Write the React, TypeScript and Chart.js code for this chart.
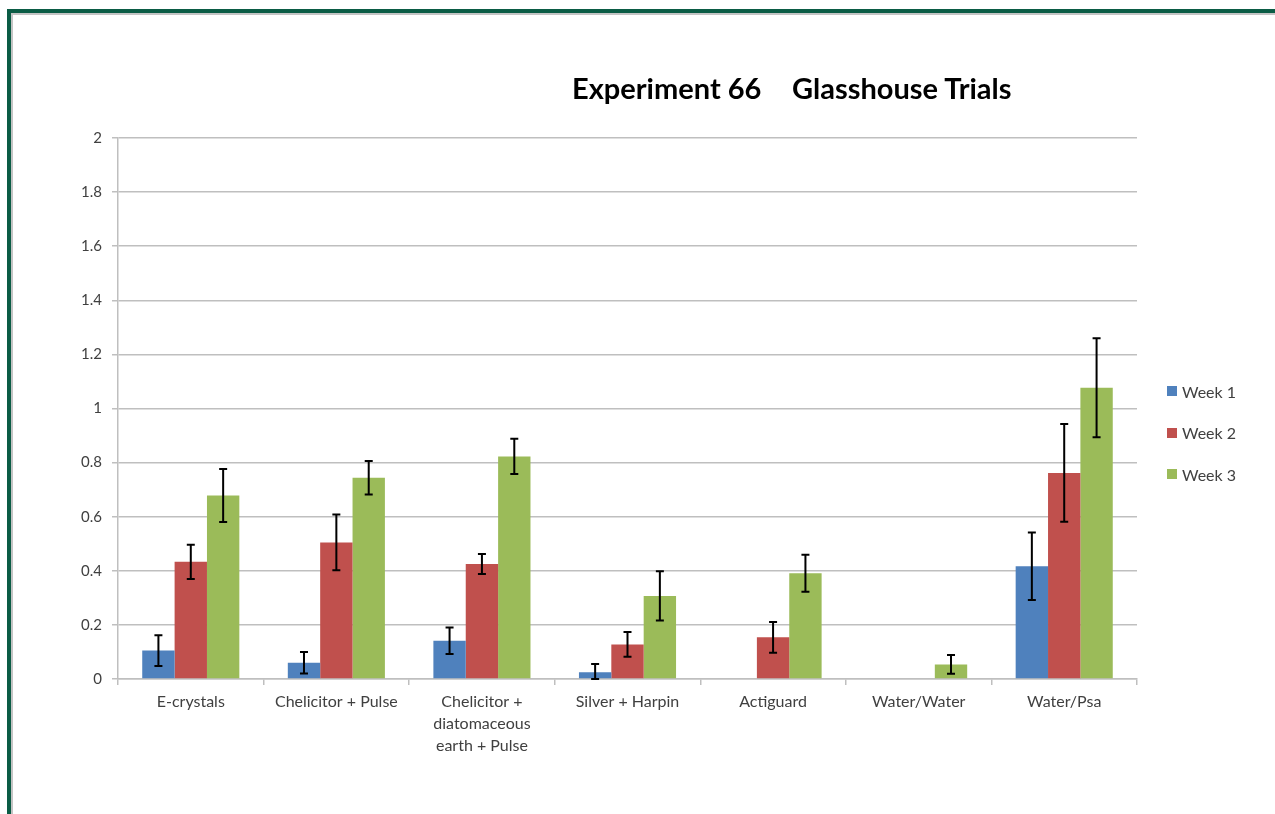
import React, { useEffect, useRef } from "react";
import { Chart, registerables } from "chart.js";

Chart.register(...registerables);

const categories: (string | string[])[] = [
  "E-crystals",
  "Chelicitor + Pulse",
  ["Chelicitor +", "diatomaceous", "earth + Pulse"],
  "Silver + Harpin",
  "Actiguard",
  "Water/Water",
  "Water/Psa",
];

const seriesNames = ["Week 1", "Week 2", "Week 3"];
const seriesColors = ["#4f81bd", "#c0504d", "#9bbb59"];

const week1: (number | null)[] = [0.105, 0.06, 0.141, 0.025, null, null, 0.417];
const week2: (number | null)[] = [0.433, 0.505, 0.425, 0.128, 0.154, null, 0.762];
const week3: (number | null)[] = [0.678, 0.744, 0.823, 0.307, 0.391, 0.054, 1.077];

const err1: (number | null)[] = [0.057, 0.04, 0.049, 0.03, null, null, 0.125];
const err2: (number | null)[] = [0.063, 0.103, 0.037, 0.046, 0.057, null, 0.181];
const err3: (number | null)[] = [0.098, 0.062, 0.065, 0.091, 0.068, 0.035, 0.183];

const yTicks = { min: 0, max: 2, step: 0.2 };

const titleLeft = "Experiment 66";
const titleRight = "Glasshouse Trials";

const FONT = "Lato, 'Open Sans', sans-serif";
const TEXT = "#404040";
const GRID = "#bfbfbf";

const errorBarPlugin = {
  id: "errorBars",
  afterDatasetsDraw(chart: any) {
    const ctx = chart.ctx;
    const yScale = chart.scales.y;
    chart.data.datasets.forEach((ds: any, di: number) => {
      const meta = chart.getDatasetMeta(di);
      const errs = ds.errors as (number | null)[];
      meta.data.forEach((bar: any, i: number) => {
        const v = ds.data[i];
        const e = errs[i];
        if (v == null || e == null) return;
        const x = bar.x;
        const yTop = yScale.getPixelForValue(v + e);
        const yBot = yScale.getPixelForValue(Math.max(0, v - e));
        ctx.save();
        ctx.strokeStyle = "#000";
        ctx.lineWidth = 2;
        ctx.beginPath();
        ctx.moveTo(x, yTop);
        ctx.lineTo(x, yBot);
        ctx.moveTo(x - 4, yTop);
        ctx.lineTo(x + 4, yTop);
        ctx.moveTo(x - 4, yBot);
        ctx.lineTo(x + 4, yBot);
        ctx.stroke();
        ctx.restore();
      });
    });
  },
};

export default function App() {
  const canvasRef = useRef<HTMLCanvasElement | null>(null);

  useEffect(() => {
    if (!canvasRef.current) return;
    const values = [week1, week2, week3];
    const errors = [err1, err2, err3];
    const chart = new Chart(canvasRef.current, {
      type: "bar",
      data: {
        labels: categories,
        datasets: seriesNames.map((name, k) => ({
          label: name,
          data: values[k],
          errors: errors[k],
          backgroundColor: seriesColors[k],
          borderWidth: 0,
          categoryPercentage: 0.667,
          barPercentage: 1,
        })) as any,
      },
      options: {
        animation: false,
        responsive: false,
        devicePixelRatio: 1,
        layout: { padding: { left: 0, top: 138, right: 138, bottom: 0 } },
        plugins: {
          legend: { display: false },
          title: { display: false },
          tooltip: { enabled: false },
        },
        scales: {
          x: {
            afterFit: (s: any) => {
              s.height = 135;
            },
            grid: {
              drawOnChartArea: false,
              drawTicks: true,
              tickLength: 6,
              offset: true,
              color: GRID,
              lineWidth: 1.5,
            },
            border: { display: true, color: GRID, width: 1.5 },
            ticks: {
              color: TEXT,
              font: { family: FONT, size: 16, lineHeight: 1.38 },
              padding: 6,
              maxRotation: 0,
              autoSkip: false,
            },
          },
          y: {
            min: yTicks.min,
            max: yTicks.max,
            afterFit: (s: any) => {
              s.width = 118;
            },
            grid: {
              color: GRID,
              lineWidth: 1.5,
              drawTicks: true,
              tickLength: 6,
            },
            border: { display: true, color: GRID, width: 1.5 },
            ticks: {
              stepSize: yTicks.step,
              color: TEXT,
              padding: 10,
              font: { family: FONT, size: 15 },
              callback: (v: any) => String(Number(Number(v).toFixed(1))),
            },
          },
        },
      },
      plugins: [errorBarPlugin],
    });
    return () => chart.destroy();
  }, []);

  const titleStyle: React.CSSProperties = {
    position: "absolute",
    top: 70,
    fontFamily: FONT,
    fontWeight: 700,
    fontSize: 29,
    color: "#000",
    whiteSpace: "pre",
  };

  return (
    <div
      style={{
        position: "fixed",
        left: 0,
        top: 0,
        width: 1275,
        height: 814,
        overflow: "hidden",
        background: "#fff",
      }}
    >
      <div
        style={{
          position: "absolute",
          left: 7,
          top: 9,
          width: 2000,
          height: 2000,
          borderLeft: "4px solid #0b5c45",
          borderTop: "4px solid #0b5c45",
        }}
      />
      <div
        style={{
          position: "absolute",
          left: 11,
          top: 13,
          width: 2000,
          height: 2000,
          borderLeft: "2px solid #c4c4c4",
          borderTop: "2px solid #c4c4c4",
        }}
      />
      <canvas
        ref={canvasRef}
        width={1275}
        height={814}
        style={{ position: "absolute", left: 0, top: 0, width: 1275, height: 814 }}
      />
      <div style={{ ...titleStyle, left: 572 }}>{titleLeft}</div>
      <div style={{ ...titleStyle, left: 792 }}>{titleRight}</div>
      {seriesNames.map((name, k) => (
        <div
          key={name}
          style={{
            position: "absolute",
            left: 1167,
            top: 381 + k * 41.5,
            height: 20,
            display: "flex",
            alignItems: "center",
            fontFamily: FONT,
            fontSize: 16,
            color: TEXT,
            whiteSpace: "pre",
          }}
        >
          <span
            style={{
              display: "inline-block",
              width: 10,
              height: 10,
              background: seriesColors[k],
              marginRight: 5,
            }}
          />
          {name}
        </div>
      ))}
    </div>
  );
}
